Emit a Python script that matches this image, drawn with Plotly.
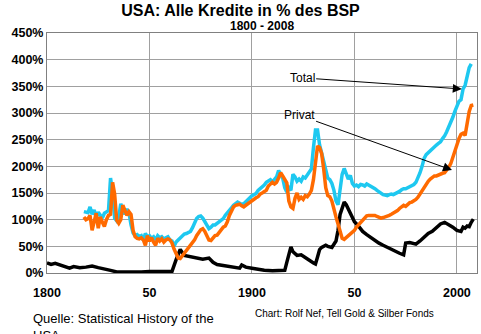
import plotly.graph_objects as go

# Staat (schwarz)
years_staat = [1800,1802,1804,1806,1808,1811,1813,1816,1819,1822,1825,1828,1831,1834,1838,1842,1846,1850,1854,1858,1861,1863,1865,1867,1870,1873,1876,1879,1881,1883,1886,1889,1892,1894,1895,1897,1900,1903,1906,1910,1914,1916,1917,1919,1920,1922,1924,1926,1928,1930,1931,1932,1933,1934,1936,1937,1939,1941,1942,1943,1944,1945,1946,1948,1950,1952,1954,1956,1958,1960,1962,1964,1966,1968,1970,1972,1974,1975,1977,1980,1982,1984,1986,1988,1990,1992,1994,1996,1998,2000,2002,2003,2004,2005,2006,2007,2008]
staat = [19,16,18,15,13,9,12,10,11,13,10,8,5,2,1.5,1.5,2,3,3.5,2.5,3,25,44,33,31,29,26,28,20,16,14,12,9,9,15,11,9,7,5,4,4,5,20,49,40,33,34,28,24,19,17,30,44,48,52,50,48,60,80,110,124,133,128,112,96,88,78,72,66,61,56,52,48,44,40,37,34,56,57,54,60,68,74,78,85,92,95,91,86,80,78,86,84,88,87,95,101]

years = list(range(1818, 2009))
total = [115,114,113,124,110,118,104,114,108,103,112,115,117,178,150,103,98,105,130,118,110,120,113,90,75,70,72,68,70,62,74,68,70,65,68,62,70,66,68,64,66,68,62,60,50,58,62,66,70,73,74,76,78,85,95,102,106,107,103,96,88,83,86,90,90,93,96,97,102,108,112,118,122,127,130,133,131,128,130,134,138,143,145,147,149,155,158,163,165,170,172,175,171,175,180,192,185,178,160,152,160,155,185,180,172,176,172,180,178,183,188,195,235,268,268,240,225,208,195,178,175,168,155,135,128,160,185,196,184,176,183,168,163,165,162,166,165,163,167,165,163,160,158,155,152,150,147,146,145,147,148,147,149,150,153,156,158,158,160,162,163,166,170,178,188,200,215,222,226,230,233,237,240,243,246,252,257,265,273,283,292,303,313,322,325,345,352,372,385,392]
privat = [105,100,102,108,80,100,112,84,105,95,87,100,108,110,170,148,99,93,100,127,115,108,115,110,80,68,65,64,66,62,52,70,60,66,58,52,65,60,64,58,62,64,62,56,45,35,28,27,32,36,40,46,50,55,62,70,77,81,83,78,70,62,61,66,70,71,76,82,86,88,96,108,118,124,127,128,129,126,124,127,130,133,137,139,141,143,148,150,153,155,163,166,170,167,170,178,188,182,175,169,135,124,121,140,150,138,142,138,145,143,148,155,175,210,238,235,224,195,160,145,143,135,118,105,92,75,65,63,66,70,74,76,80,86,90,95,100,104,107,108,108,109,108,106,104,103,104,105,107,108,110,112,114,117,121,124,127,125,129,132,133,135,138,142,148,155,160,168,172,176,180,182,182,184,186,187,188,192,198,205,218,230,240,252,260,262,258,285,303,314,315]
years_t = years[:len(total)]
years_p = years[:len(privat)]

x_tickvals = [1800, 1850, 1900, 1950, 2000]
x_ticktext = ["1800", "50", "1900", "50", "2000"]
y_tickvals = [0, 50, 100, 150, 200, 250, 300, 350, 400, 450]
y_ticktext = [f"{v}%" for v in y_tickvals]

fig = go.Figure()
fig.add_trace(go.Scatter(x=years_staat, y=staat, mode="lines", name="Staat",
                         line=dict(color="#000000", width=3.5)))
fig.add_trace(go.Scatter(x=years_t, y=total, mode="lines", name="Total",
                         line=dict(color="#1EC8F0", width=3.5)))
fig.add_trace(go.Scatter(x=years_p, y=privat, mode="lines", name="Privat",
                         line=dict(color="#FF6A00", width=3.5)))

font_family = "Liberation Sans, Arial, sans-serif"
tick_font = dict(size=12.5, family=font_family, color="#000", weight="bold")

fig.update_layout(
    width=481, height=334,
    margin=dict(l=47, r=4, t=33, b=61),
    paper_bgcolor="white", plot_bgcolor="white",
    showlegend=False,
    font=dict(family=font_family, color="#000"),
    title=dict(text="<b>USA: Alle Kredite in % des BSP</b>", x=0.5, xanchor="center",
               y=0.97, yanchor="middle", font=dict(size=16, family=font_family)),
    xaxis=dict(range=[1800, 2009.8], tickvals=x_tickvals, ticktext=x_ticktext,
               showgrid=True, gridcolor="#A0A0A0", gridwidth=1,
               showline=True, linecolor="#808080", linewidth=1, mirror=True,
               ticks="", tickfont=tick_font, ticklabelstandoff=8,
               zeroline=False),
    yaxis=dict(range=[0, 450], tickvals=y_tickvals, ticktext=y_ticktext,
               showgrid=True, gridcolor="#A0A0A0", gridwidth=1,
               showline=True, linecolor="#808080", linewidth=1, mirror=True,
               ticks="", tickfont=tick_font,
               zeroline=False),
)

fig.add_annotation(text="<b>1800 - 2008</b>", xref="paper", yref="paper",
                   x=0.5, y=1.03, xanchor="center", yanchor="middle",
                   showarrow=False, font=dict(size=12, family=font_family))

fig.add_annotation(text="Total", x=2002.4, y=345, ax=1924.5, ay=366,
                   xref="x", yref="y", axref="x", ayref="y",
                   showarrow=True, arrowhead=2, arrowsize=1.8, arrowwidth=1,
                   arrowcolor="#000", font=dict(size=12, family=font_family))
fig.add_annotation(text="Privat", x=1997.6, y=193, ax=1923, ay=296,
                   xref="x", yref="y", axref="x", ayref="y",
                   showarrow=True, arrowhead=2, arrowsize=1.8, arrowwidth=1,
                   arrowcolor="#000", font=dict(size=12, family=font_family))

fig.add_annotation(text="Quelle: Statistical History of the<br>USA", xref="paper", yref="paper",
                   x=-0.0365, y=-0.15, xanchor="left", yanchor="top", align="left",
                   showarrow=False, font=dict(size=13, family=font_family))
fig.add_annotation(text="Chart: Rolf Nef, Tell Gold &amp; Silber Fonds", xref="paper", yref="paper",
                   x=0.48, y=-0.17, xanchor="left", yanchor="middle",
                   showarrow=False, font=dict(size=10, family=font_family))

fig.write_html("out.html")
